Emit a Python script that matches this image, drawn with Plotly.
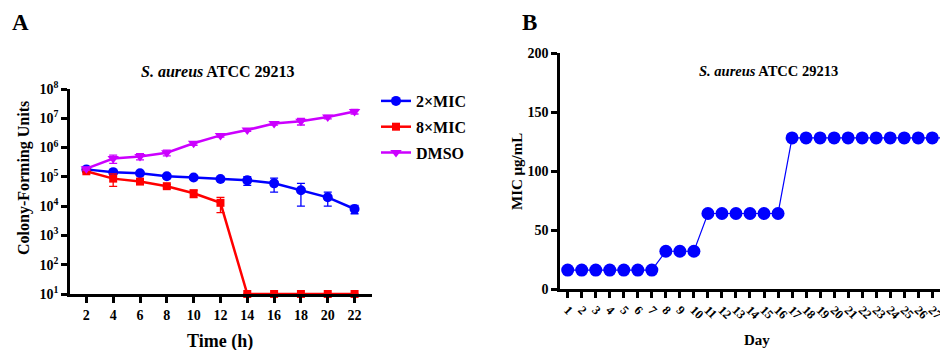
import plotly.graph_objects as go

# ---------------- Data ----------------
time_h = [2, 4, 6, 8, 10, 12, 14, 16, 18, 20, 22]
mic2_cfu = [1.8e5, 1.45e5, 1.33e5, 1.05e5, 9.5e4, 8.5e4, 7.6e4, 6.0e4, 3.5e4, 2.0e4, 8.0e3]
mic2_err = [2.0e4, 1.5e4, 1.0e4, 8.0e3, 7.0e3, 6.0e3, 2.5e4, 3.0e4, 2.5e4, 1.0e4, 2.5e3]
mic8_cfu = [1.55e5, 8.7e4, 6.9e4, 4.8e4, 2.75e4, 1.3e4, 10, 10, 10, 10, 10]
mic8_err = [1.5e4, 4.0e4, 8.0e3, 6.0e3, 8.0e3, 7.0e3, 0, 0, 0, 0, 0]
dmso_cfu = [1.9e5, 4.2e5, 5.0e5, 6.7e5, 1.4e6, 2.6e6, 4.0e6, 6.6e6, 7.9e6, 1.1e7, 1.7e7]
dmso_err = [2.0e4, 1.3e5, 1.2e5, 1.5e5, 2.0e5, 3.0e5, 4.0e5, 8.0e5, 2.0e6, 1.5e6, 3.0e6]
cfu_tickvals = [1e1, 1e2, 1e3, 1e4, 1e5, 1e6, 1e7, 1e8]
cfu_ticktext = ["10<sup>1</sup>", "10<sup>2</sup>", "10<sup>3</sup>", "10<sup>4</sup>",
                "10<sup>5</sup>", "10<sup>6</sup>", "10<sup>7</sup>", "10<sup>8</sup>"]

days = list(range(1, 29))
mic_values = [16] * 7 + [32] * 3 + [64] * 6 + [128] * 12
mic_tickvals = [0, 50, 100, 150, 200]

FONT = "Liberation Serif, Times New Roman, DejaVu Serif, serif"
BLUE = "#0000ff"
RED = "#ff0000"
PURPLE = "#cc00ff"

W, H = 948, 350


def px(x):
    return x / W


def py(y):
    return 1 - y / H


fig = go.Figure()

fig.add_trace(go.Scatter(
    x=time_h, y=mic2_cfu, name="<b>2×MIC</b>", mode="lines+markers",
    line=dict(color=BLUE, width=2.5),
    marker=dict(symbol="circle", size=10, color=BLUE),
    error_y=dict(type="data", array=mic2_err, color=BLUE, thickness=1.3, width=4),
    cliponaxis=False, xaxis="x", yaxis="y", legendgroup="a"))
fig.add_trace(go.Scatter(
    x=time_h, y=mic8_cfu, name="<b>8×MIC</b>", mode="lines+markers",
    line=dict(color=RED, width=2.5),
    marker=dict(symbol="square", size=8, color=RED),
    error_y=dict(type="data", array=mic8_err, color=RED, thickness=1.3, width=4),
    cliponaxis=False, xaxis="x", yaxis="y", legendgroup="b"))
fig.add_trace(go.Scatter(
    x=time_h, y=dmso_cfu, name="<b>DMSO</b>", mode="lines+markers",
    line=dict(color=PURPLE, width=2.5),
    marker=dict(symbol="triangle-down", size=10, color=PURPLE),
    error_y=dict(type="data", array=dmso_err, color=PURPLE, thickness=1.3, width=4),
    cliponaxis=False, xaxis="x", yaxis="y", legendgroup="c"))

fig.add_trace(go.Scatter(
    x=days, y=mic_values, mode="lines+markers", showlegend=False,
    line=dict(color=BLUE, width=1.2),
    marker=dict(symbol="circle", size=13, color=BLUE),
    cliponaxis=False, xaxis="x2", yaxis="y2"))

axis_common = dict(showline=True, linecolor="black", linewidth=2.5, ticks="outside",
                   tickcolor="black", tickwidth=2.5, ticklen=6, showgrid=False,
                   zeroline=False, automargin=False,
                   tickfont=dict(family=FONT, size=14, color="black"))


def label(text, x, y, size, angle=0, anchor="center"):
    return dict(text=text, x=px(x), y=py(y), xref="paper", yref="paper",
                xanchor=anchor, yanchor="middle", showarrow=False, textangle=angle,
                font=dict(family=FONT, size=size, color="black"))


fig.update_layout(
    width=W, height=H,
    margin=dict(l=0, r=0, t=0, b=0, autoexpand=False),
    plot_bgcolor="white", paper_bgcolor="white",
    font=dict(family=FONT, color="black", size=14),
    xaxis=dict(domain=[px(62), px(364)], range=[0.78, 23.3], tickvals=time_h,
               ticktext=["<b>%d</b>" % t for t in time_h], anchor="y", **axis_common),
    yaxis=dict(domain=[py(286), py(81)], type="log", range=[1, 8],
               tickvals=cfu_tickvals, ticktext=["<b>" + t + "</b>" for t in cfu_ticktext],
               anchor="x", **axis_common),
    xaxis2=dict(domain=[px(552), px(946)], range=[0.45, 28.55], tickvals=days,
                ticktext=["<b>%d</b>" % d for d in days], tickangle=45, anchor="y2",
                **{**axis_common, "tickfont": dict(family=FONT, size=12.5, color="black")}),
    yaxis2=dict(domain=[py(281), py(45)], range=[0, 200], tickvals=mic_tickvals,
                ticktext=["<b>%d</b>" % v for v in mic_tickvals], anchor="x2", **axis_common),
    legend=dict(x=px(368), y=py(76), xanchor="left", yanchor="top",
                font=dict(family=FONT, size=16, color="black"),
                tracegroupgap=2, bgcolor="rgba(0,0,0,0)"),
    annotations=[
        label("<b><i>S. aureus</i> ATCC 29213</b>", 210, 64, 16),
        label("<b><i>S. aureus</i> ATCC 29213</b>", 760, 63, 14.5),
        label("<b>Time (h)</b>", 212, 333, 18),
        label("<b>Colony-Forming Units</b>", 16, 170, 16, angle=-90),
        label("<b>Day</b>", 749, 332, 15),
        label("<b>MIC μg/mL</b>", 509, 164, 15, angle=-90),
        label("<b>A</b>", 12, 15, 23),
        label("<b>B</b>", 521, 15, 23),
    ],
)

fig.write_html("out.html")
